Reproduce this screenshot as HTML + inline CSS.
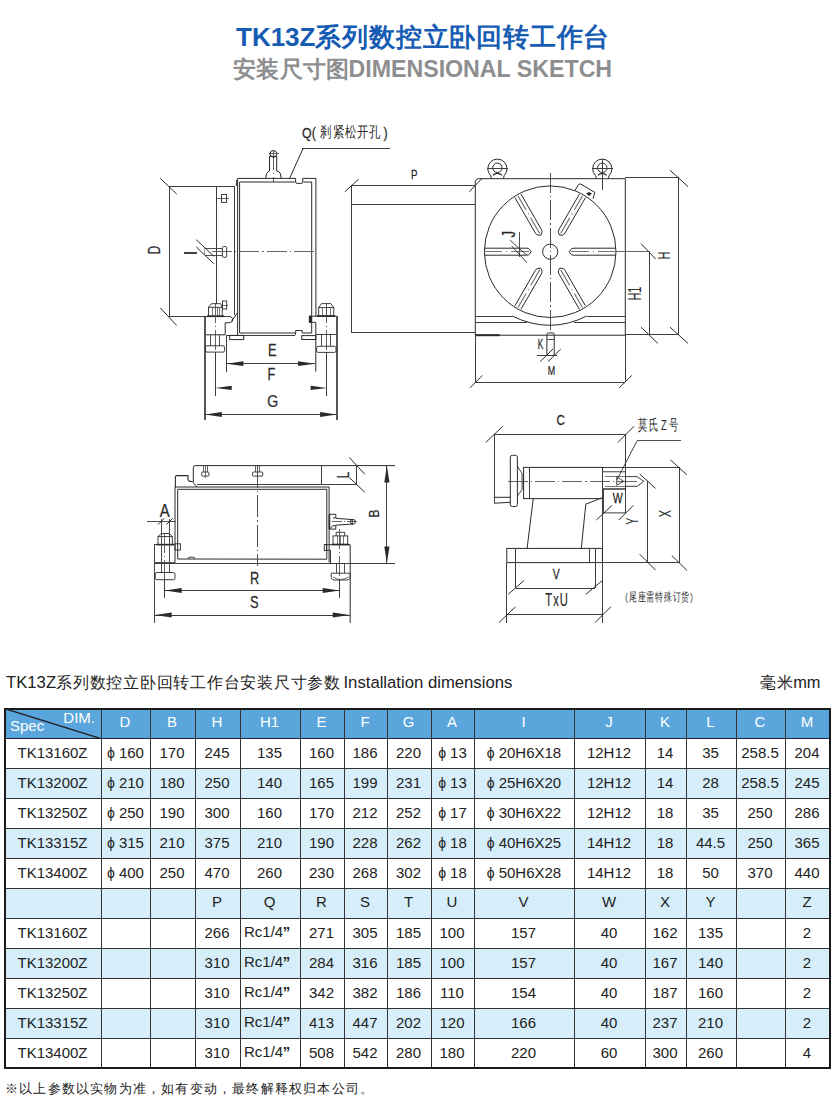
<!DOCTYPE html>
<html><head><meta charset="utf-8">
<style>
html,body{margin:0;padding:0;background:#fff;}
body{width:836px;height:1114px;position:relative;overflow:hidden;font-family:"Liberation Sans",sans-serif;color:#222;}
.abs{position:absolute;white-space:nowrap;}
.t1{left:236px;top:20px;font-size:26px;font-weight:bold;color:#165cb3;}
.t1 .c{letter-spacing:0.8px;}
.t2{left:233px;top:54.3px;font-size:23.2px;font-weight:bold;color:#8d8e90;}
.t2 .c{letter-spacing:0.25px;margin-right:-0.8px;font-size:23px;}
.cap{left:6px;top:672.5px;font-size:16.7px;color:#222;}
.cap .c{font-size:16px;letter-spacing:0.75px;margin-right:-2px;}
.mm{left:760px;top:672.5px;font-size:16.4px;color:#222;}
.mm .c{font-size:16px;letter-spacing:0.6px;}
.note{left:5px;top:1079.5px;font-size:13px;color:#222;letter-spacing:1.2px;}
.tbl{position:absolute;left:5px;top:708px;border-collapse:collapse;table-layout:fixed;width:825px;}
.tbl td{border:1px solid #333;height:30px;padding:0 2px 3px 0;box-sizing:border-box;text-align:center;font-size:15px;color:#222;position:relative;}
.tbl tr.h1 td{background:#5aa6dc;color:#fff;padding-bottom:4px;border-bottom-color:#1c2530;}
.tbl tr.b td{background:#d5eef9;}
.tbl tr.w td{background:#fff;}
.tbl tr.h2 td{padding-bottom:4.5px;}
.tbl td.spec{text-align:left;}
.dim{position:absolute;right:6px;top:0px;font-size:15px;color:#fff;}
.sp{position:absolute;left:4px;top:8px;font-size:15px;color:#fff;}
.phi{margin-right:4px;font-size:14px;position:relative;top:0.5px;margin-left:1px;}
.rc{position:absolute;left:3px;top:4.2px;}
.rc b{font-size:15px;margin-left:-0.5px;}
svg.draw{position:absolute;left:0;top:0;}
.frame{position:absolute;left:4px;top:708px;width:827px;height:361px;box-sizing:border-box;border:2px solid #1a1a1a;}
</style></head><body>
<div class="abs t1">TK13Z<span class="c">系列数控立卧回转工作台</span></div>
<div class="abs t2"><span class="c">安装尺寸图</span>DIMENSIONAL SKETCH</div>
<div class="abs cap">TK13Z<span class="c">系列数控立卧回转工作台安装尺寸参数</span> Installation dimensions</div>
<div class="abs mm"><span class="c">毫米</span>mm</div>
<svg class="draw" width="836" height="660" viewBox="0 0 836 660"><text transform="translate(302,137.6) scale(0.8,1)" font-size="15.5" text-anchor="start" fill="#2a2a2a" stroke="#2a2a2a" stroke-width="0.25" font-family="Liberation Sans, sans-serif">Q(</text>
<text transform="translate(320.4,137) scale(0.76,1)" font-size="15" letter-spacing="1.5" fill="#2a2a2a" font-family="Liberation Sans, sans-serif">刹紧松开孔</text>
<text transform="translate(383.6,137.6) scale(0.8,1)" font-size="15.5" text-anchor="start" fill="#2a2a2a" stroke="#2a2a2a" stroke-width="0.25" font-family="Liberation Sans, sans-serif">)</text>
<line x1="301.7" y1="148" x2="390" y2="148" stroke="#403c3c" stroke-width="1"  shape-rendering="crispEdges"/>
<line x1="289.6" y1="178.4" x2="303.3" y2="148" stroke="#2a2a2a" stroke-width="1" />
<path d="M265.7,178.4 L266.5,173.6 Q268,171.5 269.5,171 L269.5,156.3 L276.7,156.3 L276.7,171 Q279.5,171.5 280.4,173.6 L281.2,178.4" stroke="#2a2a2a" stroke-width="1" fill="none" />
<circle cx="273.4" cy="153.9" r="3.4" stroke="#2a2a2a" stroke-width="1" fill="none"/>
<line x1="273.4" y1="150" x2="273.4" y2="182" stroke="#403c3c" stroke-width="0.8" stroke-dasharray="20,3,1.3,3" shape-rendering="crispEdges"/>
<line x1="268.5" y1="153.9" x2="278.5" y2="153.9" stroke="#403c3c" stroke-width="0.8"  shape-rendering="crispEdges"/>
<path d="M237.6,335.2 L237.6,178.4 L295.6,178.4 L295.6,182 Q295.6,183.4 297.2,183.4 L301.2,183.4 Q302.8,183.4 302.8,182 L302.8,178.4 L315.9,178.4 L315.9,316.2" stroke="#2a2a2a" stroke-width="1" fill="none" />
<path d="M239.6,333 L239.6,182 L294.8,182 M303.6,182 L311.7,182 L311.7,333 L302.2,333 L302.2,330.5 L295.7,330.5 L295.7,333 L239.6,333" stroke="#2a2a2a" stroke-width="1" fill="none" />
<line x1="226" y1="335.4" x2="295.4" y2="335.4" stroke="#403c3c" stroke-width="1"  shape-rendering="crispEdges"/>
<line x1="295.4" y1="335.4" x2="295.4" y2="333" stroke="#403c3c" stroke-width="1"  shape-rendering="crispEdges"/>
<rect x="229.7" y="335.4" width="14" height="4.2" stroke="#2a2a2a" stroke-width="1" fill="none" rx="0"/>
<rect x="301.8" y="335.6" width="14" height="3.9" stroke="#2a2a2a" stroke-width="1" fill="none" rx="0"/>
<line x1="169.5" y1="186.2" x2="234.6" y2="186.2" stroke="#403c3c" stroke-width="1"  shape-rendering="crispEdges"/>
<line x1="216.2" y1="186.2" x2="216.2" y2="303.6" stroke="#403c3c" stroke-width="1"  shape-rendering="crispEdges"/>
<line x1="234.6" y1="186.2" x2="234.6" y2="314.7" stroke="#403c3c" stroke-width="1"  shape-rendering="crispEdges"/>
<line x1="236.4" y1="179.6" x2="236.4" y2="186" stroke="#403c3c" stroke-width="1"  shape-rendering="crispEdges"/>
<rect x="221.6" y="194.4" width="5" height="8" stroke="#2a2a2a" stroke-width="0.9" fill="none" rx="0"/>
<line x1="216.2" y1="198.4" x2="228.5" y2="198.4" stroke="#403c3c" stroke-width="0.8"  shape-rendering="crispEdges"/>
<rect x="222.4" y="246.5" width="4.3" height="10.8" stroke="#2a2a2a" stroke-width="0.9" fill="none" rx="1.2"/>
<line x1="204.8" y1="248.3" x2="222.4" y2="248.3" stroke="#403c3c" stroke-width="0.9"  shape-rendering="crispEdges"/>
<line x1="204.8" y1="255.1" x2="222.4" y2="255.1" stroke="#403c3c" stroke-width="0.9"  shape-rendering="crispEdges"/>
<line x1="204.8" y1="248.3" x2="204.8" y2="255.1" stroke="#888" stroke-width="0.8"  shape-rendering="crispEdges"/>
<line x1="212" y1="251.5" x2="315.8" y2="251.5" stroke="#555" stroke-width="0.9" stroke-dasharray="20,3,1.3,3" shape-rendering="crispEdges"/>
<rect x="222.5" y="301" width="4.2" height="8" stroke="#2a2a2a" stroke-width="0.9" fill="none" rx="0"/>
<line x1="222.5" y1="305.5" x2="228.2" y2="305.5" stroke="#403c3c" stroke-width="0.8"  shape-rendering="crispEdges"/>
<line x1="169.5" y1="186.2" x2="169.5" y2="316.7" stroke="#403c3c" stroke-width="1"  shape-rendering="crispEdges"/>
<line x1="160.3" y1="178.39999999999998" x2="176.7" y2="194.0" stroke="#2a2a2a" stroke-width="1" />
<line x1="160.3" y1="307.9" x2="176.7" y2="325.5" stroke="#2a2a2a" stroke-width="1" />
<line x1="169.5" y1="316.5" x2="230.6" y2="316.5" stroke="#403c3c" stroke-width="1"  shape-rendering="crispEdges"/>
<text transform="translate(160,250) rotate(-90) scale(0.72,1)" font-size="17" text-anchor="middle" fill="#2a2a2a" stroke="#2a2a2a" stroke-width="0.25" font-family="Liberation Sans, sans-serif">D</text>
<line x1="196.2" y1="239.7" x2="213.8" y2="256.2" stroke="#2a2a2a" stroke-width="1" />
<line x1="196.2" y1="246.9" x2="213.8" y2="263.7" stroke="#2a2a2a" stroke-width="1" />
<line x1="184" y1="253" x2="196.9" y2="253" stroke="#2a2a2a" stroke-width="1.8" />
<path d="M230.6,316.5 L232.4,318.3 L232.4,321.3 Q231,322.8 228,322.8 L225.2,322.8 L225.2,334.8 L204.9,334.8" stroke="#2a2a2a" stroke-width="1" fill="none" />
<line x1="231.5" y1="321.3" x2="237.2" y2="313.2" stroke="#2a2a2a" stroke-width="1" />
<line x1="204.9" y1="316.5" x2="204.9" y2="420" stroke="#555" stroke-width="1.2"  shape-rendering="crispEdges"/>
<rect x="208.5" y="307.3" width="13.7" height="9.2" stroke="#2a2a2a" stroke-width="0.9" fill="none" rx="0"/>
<path d="M208.5,307.3 L211.5,303.7 L220.7,303.7 L222.2,307.3" stroke="#2a2a2a" stroke-width="0.9" fill="none" />
<line x1="212.4" y1="307.3" x2="212.4" y2="316.5" stroke="#403c3c" stroke-width="0.7"  shape-rendering="crispEdges"/>
<line x1="217.1" y1="307.3" x2="217.1" y2="316.5" stroke="#403c3c" stroke-width="0.7"  shape-rendering="crispEdges"/>
<line x1="219.5" y1="307.3" x2="219.5" y2="316.5" stroke="#403c3c" stroke-width="0.7"  shape-rendering="crispEdges"/>
<line x1="207" y1="316.2" x2="224" y2="316.2" stroke="#2a2a2a" stroke-width="1.8" />
<line x1="210.9" y1="334.8" x2="210.9" y2="345.8" stroke="#403c3c" stroke-width="0.9"  shape-rendering="crispEdges"/>
<line x1="219.8" y1="334.8" x2="219.8" y2="345.8" stroke="#403c3c" stroke-width="0.9"  shape-rendering="crispEdges"/>
<rect x="205.5" y="345.8" width="19.1" height="6.3" stroke="#2a2a2a" stroke-width="0.9" fill="none" rx="1.5"/>
<line x1="215.4" y1="303" x2="215.4" y2="352" stroke="#403c3c" stroke-width="0.8" stroke-dasharray="20,3,1.3,3" shape-rendering="crispEdges"/>
<line x1="215.4" y1="352" x2="215.4" y2="396.3" stroke="#403c3c" stroke-width="1"  shape-rendering="crispEdges"/>
<line x1="226.2" y1="334.8" x2="226.2" y2="371.7" stroke="#403c3c" stroke-width="1"  shape-rendering="crispEdges"/>
<path d="M309.4,322.3 L309.4,316.2 L337,316.2 L337,420" stroke="#2a2a2a" stroke-width="1" fill="none" />
<line x1="337" y1="316.2" x2="337" y2="420" stroke="#555" stroke-width="1.2"  shape-rendering="crispEdges"/>
<rect x="309.4" y="316.2" width="2.1" height="6.1" stroke="#2a2a2a" stroke-width="0.9" fill="#2a2a2a" rx="0"/>
<path d="M309.4,322.3 L315.8,322.3 L315.8,371.7" stroke="#2a2a2a" stroke-width="1" fill="none" />
<line x1="315.8" y1="334.5" x2="337" y2="334.5" stroke="#403c3c" stroke-width="1"  shape-rendering="crispEdges"/>
<rect x="318.7" y="307.6" width="15.1" height="8.6" stroke="#2a2a2a" stroke-width="0.9" fill="none" rx="0"/>
<path d="M318.7,307.6 L321.6,303.6 L330.9,303.6 L333.8,307.6" stroke="#2a2a2a" stroke-width="0.9" fill="none" />
<line x1="322.6" y1="307.6" x2="322.6" y2="316.2" stroke="#403c3c" stroke-width="0.7"  shape-rendering="crispEdges"/>
<line x1="326.3" y1="307.6" x2="326.3" y2="316.2" stroke="#403c3c" stroke-width="0.7"  shape-rendering="crispEdges"/>
<line x1="330" y1="307.6" x2="330" y2="316.2" stroke="#403c3c" stroke-width="0.7"  shape-rendering="crispEdges"/>
<line x1="317" y1="316.1" x2="335" y2="316.1" stroke="#2a2a2a" stroke-width="1.8" />
<line x1="321.6" y1="334.5" x2="321.6" y2="346.3" stroke="#403c3c" stroke-width="0.9"  shape-rendering="crispEdges"/>
<line x1="330.9" y1="334.5" x2="330.9" y2="346.3" stroke="#403c3c" stroke-width="0.9"  shape-rendering="crispEdges"/>
<rect x="316.6" y="346.3" width="19.4" height="6.1" stroke="#2a2a2a" stroke-width="0.9" fill="none" rx="1.5"/>
<line x1="326.6" y1="303" x2="326.6" y2="352" stroke="#403c3c" stroke-width="0.8" stroke-dasharray="20,3,1.3,3" shape-rendering="crispEdges"/>
<line x1="326.9" y1="352" x2="326.9" y2="396.3" stroke="#403c3c" stroke-width="1"  shape-rendering="crispEdges"/>
<line x1="226.3" y1="363.7" x2="315.2" y2="363.7" stroke="#403c3c" stroke-width="1"  shape-rendering="crispEdges"/>
<path d="M226.3,363.7 L243.40,366.10 L243.40,361.30 Z" fill="#2a2a2a" stroke="none"/>
<path d="M315.2,363.7 L298.10,361.30 L298.10,366.10 Z" fill="#2a2a2a" stroke="none"/>
<text transform="translate(272.2,356.4) scale(0.8,1)" font-size="16" text-anchor="middle" fill="#2a2a2a" stroke="#2a2a2a" stroke-width="0.25" font-family="Liberation Sans, sans-serif">E</text>
<path d="M215.4,387.9 L231.70,390.00 L231.70,385.80 Z" fill="#2a2a2a" stroke="none"/>
<path d="M326.9,387.9 L310.60,385.80 L310.60,390.00 Z" fill="#2a2a2a" stroke="none"/>
<text transform="translate(271.5,380) scale(0.8,1)" font-size="16" text-anchor="middle" fill="#2a2a2a" stroke="#2a2a2a" stroke-width="0.25" font-family="Liberation Sans, sans-serif">F</text>
<line x1="205.1" y1="414.5" x2="336.8" y2="414.5" stroke="#403c3c" stroke-width="1"  shape-rendering="crispEdges"/>
<path d="M205.1,414.5 L221.80,416.90 L221.80,412.10 Z" fill="#2a2a2a" stroke="none"/>
<path d="M336.8,414.5 L320.10,412.10 L320.10,416.90 Z" fill="#2a2a2a" stroke="none"/>
<text transform="translate(272.6,407.4) scale(0.88,1)" font-size="16" text-anchor="middle" fill="#2a2a2a" stroke="#2a2a2a" stroke-width="0.25" font-family="Liberation Sans, sans-serif">G</text>
<line x1="351.4" y1="185.2" x2="475.3" y2="185.2" stroke="#403c3c" stroke-width="1"  shape-rendering="crispEdges"/>
<line x1="351.4" y1="204.9" x2="475.3" y2="204.9" stroke="#403c3c" stroke-width="1"  shape-rendering="crispEdges"/>
<line x1="351.4" y1="185.2" x2="351.4" y2="332.9" stroke="#403c3c" stroke-width="1"  shape-rendering="crispEdges"/>
<line x1="351.4" y1="332.9" x2="475" y2="332.9" stroke="#403c3c" stroke-width="1"  shape-rendering="crispEdges"/>
<line x1="344.9" y1="191.8" x2="358.5" y2="179.2" stroke="#2a2a2a" stroke-width="1" />
<line x1="469.40000000000003" y1="191.6" x2="481.8" y2="178.6" stroke="#2a2a2a" stroke-width="1" />
<text transform="translate(414.2,178.8) scale(0.75,1)" font-size="13" text-anchor="middle" fill="#2a2a2a" stroke="#2a2a2a" stroke-width="0.25" font-family="Liberation Sans, sans-serif">P</text>
<path d="M475.3,335.2 L475.3,181.5 Q475.5,178.7 478.5,178.7 L625.3,178.7 L625.3,335.2 Z" stroke="#2a2a2a" stroke-width="1" fill="none" />
<line x1="475.3" y1="335.2" x2="499.7" y2="335.2" stroke="#2a2a2a" stroke-width="2" />
<path d="M491.4,178.5 L490.59999999999997,175.5 A9.6,9.6 0 1 1 504.2,175.5 L503.4,178.5" stroke="#2a2a2a" stroke-width="1" fill="none" />
<circle cx="497.4" cy="167.8" r="4.7" stroke="#2a2a2a" stroke-width="1" fill="none"/>
<line x1="486.9" y1="168.4" x2="508.4" y2="168.4" stroke="#403c3c" stroke-width="1"  shape-rendering="crispEdges"/>
<path d="M596.3,178.5 L595.5,175.5 A9.6,9.6 0 1 1 609.0999999999999,175.5 L608.3,178.5" stroke="#2a2a2a" stroke-width="1" fill="none" />
<circle cx="602.3" cy="167.8" r="4.7" stroke="#2a2a2a" stroke-width="1" fill="none"/>
<line x1="591.8" y1="168.4" x2="613.3" y2="168.4" stroke="#403c3c" stroke-width="1"  shape-rendering="crispEdges"/>
<path d="M492.8,175.3 Q497.4,171.5 502,175.3" stroke="#2a2a2a" stroke-width="1.2" fill="none" />
<path d="M598,175.3 Q602.3,171.5 606.6,175.3" stroke="#2a2a2a" stroke-width="1.2" fill="none" />
<line x1="602.3" y1="159.3" x2="602.3" y2="190.2" stroke="#403c3c" stroke-width="1"  shape-rendering="crispEdges"/>
<circle cx="550.2" cy="251.7" r="65.8" stroke="#2a2a2a" stroke-width="1" fill="none"/>
<circle cx="550.2" cy="251.7" r="7.6" stroke="#2a2a2a" stroke-width="1" fill="none"/>
<line x1="550.2" y1="173" x2="550.2" y2="332.7" stroke="#403c3c" stroke-width="0.9" stroke-dasharray="20,3,1.3,3" shape-rendering="crispEdges"/>
<path d="M484.80,248.20 L526.70,248.20 Q529.00,248.20 529.70,249.50 L531.20,251.70 L529.70,253.90 Q529.00,255.20 526.70,255.20 L484.80,255.20" stroke="#2a2a2a" stroke-width="1" fill="none" />
<line x1="529.2" y1="251.7" x2="484.8" y2="251.7" stroke="#777" stroke-width="1.2" stroke-dasharray="18,4,1.2,4" shape-rendering="crispEdges"/>
<path d="M615.60,255.20 L573.70,255.20 Q571.40,255.20 570.70,253.90 L569.20,251.70 L570.70,249.50 Q571.40,248.20 573.70,248.20 L615.60,248.20" stroke="#2a2a2a" stroke-width="1" fill="none" />
<line x1="571.2" y1="251.7" x2="615.6" y2="251.7" stroke="#777" stroke-width="1.2" stroke-dasharray="18,4,1.2,4" shape-rendering="crispEdges"/>
<path d="M520.98,194.09 L541.48,229.60 Q542.63,231.59 541.86,232.85 L540.70,235.25 L538.04,235.05 Q536.57,235.09 535.42,233.10 L514.92,197.59" stroke="#2a2a2a" stroke-width="1" fill="none" />
<line x1="539.7" y1="233.51" x2="517.95" y2="195.84" stroke="#777" stroke-width="1.2" stroke-dasharray="18,4,1.2,4"/>
<path d="M585.48,197.59 L564.98,233.10 Q563.83,235.09 562.36,235.05 L559.70,235.25 L558.54,232.85 Q557.77,231.59 558.92,229.60 L579.42,194.09" stroke="#2a2a2a" stroke-width="1" fill="none" />
<line x1="560.7" y1="233.51" x2="582.45" y2="195.84" stroke="#777" stroke-width="1.2" stroke-dasharray="18,4,1.2,4"/>
<path d="M514.92,305.81 L535.42,270.30 Q536.57,268.31 538.04,268.35 L540.70,268.15 L541.86,270.55 Q542.63,271.81 541.48,273.80 L520.98,309.31" stroke="#2a2a2a" stroke-width="1" fill="none" />
<line x1="539.7" y1="269.89" x2="517.95" y2="307.56" stroke="#777" stroke-width="1.2" stroke-dasharray="18,4,1.2,4"/>
<path d="M579.42,309.31 L558.92,273.80 Q557.77,271.81 558.54,270.55 L559.70,268.15 L562.36,268.35 Q563.83,268.31 564.98,270.30 L585.48,305.81" stroke="#2a2a2a" stroke-width="1" fill="none" />
<line x1="560.7" y1="269.89" x2="582.45" y2="307.56" stroke="#777" stroke-width="1.2" stroke-dasharray="18,4,1.2,4"/>
<line x1="615.8" y1="251.8" x2="649.5" y2="251.8" stroke="#666" stroke-width="1.2"  shape-rendering="crispEdges"/>
<path d="M574.7,190.9 L578.6,184.5 Q579.5,183.5 581,184.2 L594.8,192.4 L593,198.8" stroke="#2a2a2a" stroke-width="1" fill="none" />
<path d="M586,193.5 l3,-1.5 l3,1.5 l-3,2.5 z" fill="#2a2a2a"/>
<line x1="519.4" y1="231.8" x2="519.4" y2="257" stroke="#403c3c" stroke-width="0.9"  shape-rendering="crispEdges"/>
<line x1="510.1" y1="240.2" x2="526.9" y2="255.3" stroke="#2a2a2a" stroke-width="0.9" />
<line x1="511.8" y1="246" x2="526.9" y2="262.8" stroke="#2a2a2a" stroke-width="0.9" />
<text transform="translate(514.6,234.2) rotate(-90) scale(0.75,1)" font-size="17.5" text-anchor="middle" fill="#2a2a2a" stroke="#2a2a2a" stroke-width="0.25" font-family="Liberation Sans, sans-serif">J</text>
<line x1="475.3" y1="316" x2="512" y2="316" stroke="#403c3c" stroke-width="1"  shape-rendering="crispEdges"/>
<line x1="586.7" y1="316" x2="625.3" y2="316" stroke="#403c3c" stroke-width="1"  shape-rendering="crispEdges"/>
<line x1="475.3" y1="322.7" x2="526.5" y2="322.7" stroke="#403c3c" stroke-width="1"  shape-rendering="crispEdges"/>
<line x1="574.3" y1="322.7" x2="625.3" y2="322.7" stroke="#403c3c" stroke-width="1"  shape-rendering="crispEdges"/>
<path d="M512,316 Q550.2,334.6 586.7,316" stroke="#2a2a2a" stroke-width="1" fill="none" />
<path d="M546.9,355.6 L546.9,334.5 Q546.9,332.9 548.5,332.9 L552.6,332.9 Q554.2,332.9 554.2,334.5 L554.2,355.6" stroke="#2a2a2a" stroke-width="1" fill="none" />
<line x1="546.9" y1="339.3" x2="554.2" y2="339.3" stroke="#403c3c" stroke-width="0.9"  shape-rendering="crispEdges"/>
<text transform="translate(540.5,349) scale(0.6,1)" font-size="14" text-anchor="middle" fill="#2a2a2a" stroke="#2a2a2a" stroke-width="0.25" font-family="Liberation Sans, sans-serif">K</text>
<line x1="536.9" y1="355.6" x2="557.2" y2="355.6" stroke="#403c3c" stroke-width="1"  shape-rendering="crispEdges"/>
<line x1="540.2" y1="361.6" x2="553" y2="349" stroke="#2a2a2a" stroke-width="1" />
<line x1="548" y1="361.6" x2="560.8" y2="349" stroke="#2a2a2a" stroke-width="1" />
<text transform="translate(551.5,374.7) scale(0.67,1)" font-size="13.3" text-anchor="middle" fill="#2a2a2a" stroke="#2a2a2a" stroke-width="0.25" font-family="Liberation Sans, sans-serif">M</text>
<line x1="475.3" y1="335.2" x2="475.3" y2="382" stroke="#403c3c" stroke-width="1"  shape-rendering="crispEdges"/>
<line x1="625.3" y1="335.2" x2="625.3" y2="382" stroke="#403c3c" stroke-width="1"  shape-rendering="crispEdges"/>
<line x1="475.3" y1="382" x2="625.3" y2="382" stroke="#403c3c" stroke-width="1"  shape-rendering="crispEdges"/>
<line x1="470.0" y1="387.8" x2="482.4" y2="375.40000000000003" stroke="#2a2a2a" stroke-width="1" />
<line x1="619.3000000000001" y1="387.90000000000003" x2="631.9" y2="375.3" stroke="#2a2a2a" stroke-width="1" />
<line x1="625.3" y1="177.9" x2="678.8" y2="177.9" stroke="#403c3c" stroke-width="1"  shape-rendering="crispEdges"/>
<line x1="678.8" y1="177.9" x2="678.8" y2="334.9" stroke="#403c3c" stroke-width="1"  shape-rendering="crispEdges"/>
<line x1="670" y1="170.20000000000002" x2="688" y2="186.6" stroke="#2a2a2a" stroke-width="1" />
<line x1="670" y1="327.2" x2="688" y2="343.40000000000003" stroke="#2a2a2a" stroke-width="1" />
<line x1="649.5" y1="252.1" x2="649.5" y2="334.9" stroke="#403c3c" stroke-width="1"  shape-rendering="crispEdges"/>
<line x1="641.0" y1="243.60000000000002" x2="655.5999999999999" y2="259.0" stroke="#2a2a2a" stroke-width="1" />
<line x1="641.2" y1="327.2" x2="657.8" y2="343.40000000000003" stroke="#2a2a2a" stroke-width="1" />
<line x1="625.3" y1="334.9" x2="678.8" y2="334.9" stroke="#403c3c" stroke-width="1"  shape-rendering="crispEdges"/>
<text transform="translate(670.2,255.6) rotate(-90) scale(0.66,1)" font-size="16.7" text-anchor="middle" fill="#2a2a2a" stroke="#2a2a2a" stroke-width="0" font-family="Liberation Sans, sans-serif">H</text>
<text transform="translate(641,293.6) rotate(-90) scale(0.62,1)" font-size="17.5" text-anchor="middle" fill="#2a2a2a" stroke="#2a2a2a" stroke-width="0" font-family="Liberation Sans, sans-serif">H1</text>
<path d="M196.9,486.9 L193.3,482.7 L193.3,467.5 Q193.3,465.6 195.5,465.6 L395.2,465.6" stroke="#2a2a2a" stroke-width="1" fill="none" />
<line x1="196.5" y1="484.3" x2="356.3" y2="484.3" stroke="#403c3c" stroke-width="1"  shape-rendering="crispEdges"/>
<line x1="321.3" y1="465.6" x2="321.3" y2="484.3" stroke="#403c3c" stroke-width="1"  shape-rendering="crispEdges"/>
<line x1="356.3" y1="465.6" x2="356.3" y2="484.3" stroke="#403c3c" stroke-width="1"  shape-rendering="crispEdges"/>
<line x1="349.3" y1="457.4" x2="364.90000000000003" y2="474.4" stroke="#2a2a2a" stroke-width="1" />
<line x1="349.3" y1="477.5" x2="364.90000000000003" y2="492.29999999999995" stroke="#2a2a2a" stroke-width="1" />
<text transform="translate(348.6,474.9) rotate(-90) scale(0.72,1)" font-size="16.2" text-anchor="middle" fill="#2a2a2a" stroke="#2a2a2a" stroke-width="0.25" font-family="Liberation Sans, sans-serif">L</text>
<rect x="201.70000000000002" y="472" width="7.2" height="4.1" stroke="#2a2a2a" stroke-width="0.9" fill="none" rx="0.8"/>
<line x1="203.5" y1="465.6" x2="203.5" y2="472" stroke="#403c3c" stroke-width="0.8"  shape-rendering="crispEdges"/>
<line x1="207.10000000000002" y1="465.6" x2="207.10000000000002" y2="472" stroke="#403c3c" stroke-width="0.8"  shape-rendering="crispEdges"/>
<rect x="252.50000000000003" y="472" width="10.2" height="4.1" stroke="#2a2a2a" stroke-width="0.9" fill="none" rx="0.8"/>
<line x1="255.8" y1="465.6" x2="255.8" y2="472" stroke="#403c3c" stroke-width="0.8"  shape-rendering="crispEdges"/>
<line x1="259.40000000000003" y1="465.6" x2="259.40000000000003" y2="472" stroke="#403c3c" stroke-width="0.8"  shape-rendering="crispEdges"/>
<line x1="205.3" y1="466" x2="205.3" y2="478" stroke="#403c3c" stroke-width="0.7"  shape-rendering="crispEdges"/>
<path d="M175.4,487.3 L175.4,477 Q175.4,475.6 177,475.6 L188,475.6 L188,479.7 L189.7,481.5 L192.7,481.5" stroke="#2a2a2a" stroke-width="1.1" fill="none" />
<path d="M175,487 L175,562.7 L154.4,562.7 M175,487 L329.1,487 L329.1,562.3" stroke="#2a2a2a" stroke-width="1" fill="none" />
<path d="M177.7,559 L177.7,489.3 L326.8,489.3 L326.8,559.2 Z" stroke="#2a2a2a" stroke-width="1" fill="none" />
<line x1="154.4" y1="563.3" x2="395.2" y2="563.3" stroke="#403c3c" stroke-width="1"  shape-rendering="crispEdges"/>
<path d="M188.4,559 L188.4,558 Q188.4,557.2 190,557.2 L193.2,557.2 Q194.7,557.2 194.7,558.5 L194.7,559" stroke="#2a2a2a" stroke-width="0.9" fill="none" />
<line x1="257.8" y1="466" x2="257.8" y2="566" stroke="#403c3c" stroke-width="0.9" stroke-dasharray="22,3,1.3,3" shape-rendering="crispEdges"/>
<rect x="175" y="543.8" width="5.4" height="6.3" stroke="#2a2a2a" stroke-width="0.9" fill="none" rx="0"/>
<line x1="154.4" y1="544.7" x2="175" y2="544.7" stroke="#403c3c" stroke-width="1"  shape-rendering="crispEdges"/>
<line x1="154.4" y1="544.7" x2="154.4" y2="622.9" stroke="#444" stroke-width="1.1"  shape-rendering="crispEdges"/>
<rect x="158" y="536.6" width="14.3" height="8.1" stroke="#2a2a2a" stroke-width="0.9" fill="none" rx="0"/>
<path d="M158,536.6 L161,533.5 L169.5,533.5 L172.3,536.6" stroke="#2a2a2a" stroke-width="0.9" fill="none" />
<line x1="156.5" y1="544.6" x2="174" y2="544.6" stroke="#2a2a2a" stroke-width="1.6" />
<line x1="161.2" y1="518.6" x2="161.2" y2="572.7" stroke="#403c3c" stroke-width="0.9"  shape-rendering="crispEdges"/>
<line x1="169.6" y1="518.6" x2="169.6" y2="572.7" stroke="#403c3c" stroke-width="0.9"  shape-rendering="crispEdges"/>
<line x1="164.7" y1="533" x2="164.7" y2="597.9" stroke="#403c3c" stroke-width="0.8" stroke-dasharray="20,3,1.3,3" shape-rendering="crispEdges"/>
<rect x="155.3" y="572.5" width="19.7" height="7.2" stroke="#2a2a2a" stroke-width="0.9" fill="none" rx="1.5"/>
<line x1="164.7" y1="580" x2="164.7" y2="597.9" stroke="#403c3c" stroke-width="1"  shape-rendering="crispEdges"/>
<line x1="147.2" y1="521.4" x2="175.9" y2="521.4" stroke="#403c3c" stroke-width="0.9"  shape-rendering="crispEdges"/>
<line x1="158.0" y1="524.6" x2="164.39999999999998" y2="518.1999999999999" stroke="#2a2a2a" stroke-width="1" />
<line x1="166.4" y1="524.6" x2="172.79999999999998" y2="518.1999999999999" stroke="#2a2a2a" stroke-width="1" />
<text transform="translate(164.6,516.6) scale(0.85,1)" font-size="17.5" text-anchor="middle" fill="#2a2a2a" stroke="#2a2a2a" stroke-width="0.25" font-family="Liberation Sans, sans-serif">A</text>
<path d="M329.4,514.3 L335.8,514.3 L335.8,517.9 L333,517.9 M333,525.6 L335.8,525.6 L335.8,529.1 L329.4,529.1 Z" stroke="#2a2a2a" stroke-width="1" fill="none" />
<line x1="329.4" y1="514.3" x2="329.4" y2="529.1" stroke="#2a2a2a" stroke-width="1.6" />
<path d="M335.8,518.3 L352.5,519.6 M335.8,525.2 L352.5,524" stroke="#2a2a2a" stroke-width="1" fill="none" />
<circle cx="352.9" cy="521.8" r="2.4" stroke="#2a2a2a" stroke-width="1" fill="none"/>
<line x1="352.9" y1="518.5" x2="352.9" y2="525.2" stroke="#403c3c" stroke-width="0.8"  shape-rendering="crispEdges"/>
<line x1="332" y1="521.8" x2="358" y2="521.8" stroke="#403c3c" stroke-width="0.8" stroke-dasharray="10,2,1,2" shape-rendering="crispEdges"/>
<path d="M336.2,535.9 L336.2,532.3 L344.7,532.3 L344.7,535.9" stroke="#2a2a2a" stroke-width="0.9" fill="none" />
<rect x="333" y="535.9" width="14.7" height="8.6" stroke="#2a2a2a" stroke-width="0.9" fill="none" rx="0"/>
<line x1="337" y1="535.9" x2="337" y2="544.4" stroke="#403c3c" stroke-width="0.7"  shape-rendering="crispEdges"/>
<line x1="340.3" y1="535.9" x2="340.3" y2="544.4" stroke="#403c3c" stroke-width="0.7"  shape-rendering="crispEdges"/>
<line x1="343.6" y1="535.9" x2="343.6" y2="544.4" stroke="#403c3c" stroke-width="0.7"  shape-rendering="crispEdges"/>
<line x1="332" y1="544.5" x2="349" y2="544.5" stroke="#2a2a2a" stroke-width="1.6" />
<path d="M324.3,544.7 L350.2,544.7 L350.2,622.9" stroke="#2a2a2a" stroke-width="1" fill="none" />
<rect x="324.3" y="544.5" width="2.2" height="6.1" stroke="#2a2a2a" stroke-width="0.9" fill="none" rx="0"/>
<path d="M326.5,550.4 L330.4,550.4 L330.4,563" stroke="#2a2a2a" stroke-width="1" fill="none" />
<line x1="336.6" y1="563.3" x2="336.6" y2="573.2" stroke="#403c3c" stroke-width="0.9"  shape-rendering="crispEdges"/>
<line x1="344.5" y1="563.3" x2="344.5" y2="573.2" stroke="#403c3c" stroke-width="0.9"  shape-rendering="crispEdges"/>
<path d="M331.2,573.2 L350.2,573.2 L350.2,578 Q349,580 347,580 L334,580 Q332,580 331.2,578 Z" stroke="#2a2a2a" stroke-width="0.9" fill="none" />
<path d="M333,577 Q340.5,582 348.5,577" stroke="#2a2a2a" stroke-width="0.7" fill="none" />
<line x1="339.8" y1="529" x2="339.8" y2="597.9" stroke="#403c3c" stroke-width="0.8" stroke-dasharray="20,3,1.3,3" shape-rendering="crispEdges"/>
<line x1="386.9" y1="465.6" x2="386.9" y2="563.3" stroke="#403c3c" stroke-width="1"  shape-rendering="crispEdges"/>
<path d="M386.9,465.6 L384.30,482.50 L389.50,482.50 Z" fill="#2a2a2a" stroke="none"/>
<path d="M386.9,563.3 L389.50,546.40 L384.30,546.40 Z" fill="#2a2a2a" stroke="none"/>
<text transform="translate(379.2,513.7) rotate(-90) scale(0.8,1)" font-size="15.5" text-anchor="middle" fill="#2a2a2a" stroke="#2a2a2a" stroke-width="0.25" font-family="Liberation Sans, sans-serif">B</text>
<line x1="164.7" y1="590.5" x2="339.7" y2="590.5" stroke="#403c3c" stroke-width="1"  shape-rendering="crispEdges"/>
<path d="M164.7,590.5 L181.70,592.90 L181.70,588.10 Z" fill="#2a2a2a" stroke="none"/>
<path d="M339.7,590.5 L322.70,588.10 L322.70,592.90 Z" fill="#2a2a2a" stroke="none"/>
<line x1="339.9" y1="580" x2="339.9" y2="597.9" stroke="#403c3c" stroke-width="1"  shape-rendering="crispEdges"/>
<text transform="translate(254.5,583.9) scale(0.8,1)" font-size="16" text-anchor="middle" fill="#2a2a2a" stroke="#2a2a2a" stroke-width="0.25" font-family="Liberation Sans, sans-serif">R</text>
<line x1="154.7" y1="615" x2="349.7" y2="615" stroke="#403c3c" stroke-width="1"  shape-rendering="crispEdges"/>
<path d="M154.7,615 L171.70,617.40 L171.70,612.60 Z" fill="#2a2a2a" stroke="none"/>
<path d="M349.7,615 L332.70,612.60 L332.70,617.40 Z" fill="#2a2a2a" stroke="none"/>
<text transform="translate(254.2,607.6) scale(0.8,1)" font-size="16" text-anchor="middle" fill="#2a2a2a" stroke="#2a2a2a" stroke-width="0.25" font-family="Liberation Sans, sans-serif">S</text>
<line x1="493.8" y1="434.8" x2="625.5" y2="434.8" stroke="#403c3c" stroke-width="1"  shape-rendering="crispEdges"/>
<line x1="485.7" y1="442.5" x2="502.7" y2="426.29999999999995" stroke="#2a2a2a" stroke-width="1" />
<line x1="617.8" y1="442.5" x2="634.0" y2="426.29999999999995" stroke="#2a2a2a" stroke-width="1" />
<text transform="translate(560.8,424.9) scale(0.8,1)" font-size="14.5" text-anchor="middle" fill="#2a2a2a" stroke="#2a2a2a" stroke-width="0.25" font-family="Liberation Sans, sans-serif">C</text>
<line x1="494.2" y1="434.8" x2="494.2" y2="503.3" stroke="#403c3c" stroke-width="1"  shape-rendering="crispEdges"/>
<path d="M494.2,497.3 L510.3,497.3 M494.2,503.2 L510.3,502.3" stroke="#2a2a2a" stroke-width="1" fill="none" />
<line x1="625.5" y1="434.8" x2="625.5" y2="472" stroke="#403c3c" stroke-width="1"  shape-rendering="crispEdges"/>
<rect x="510.3" y="455.3" width="7.1" height="51.2" stroke="#2a2a2a" stroke-width="1" fill="none" rx="2"/>
<path d="M517.3,466 L522.1,473.5 L522.1,489.5 L517.3,496" stroke="#2a2a2a" stroke-width="0.9" fill="none" />
<line x1="523.2" y1="473.5" x2="523.2" y2="489.5" stroke="#403c3c" stroke-width="0.8"  shape-rendering="crispEdges"/>
<rect x="523.6" y="467.4" width="78.9" height="31.2" stroke="#2a2a2a" stroke-width="1" fill="none" rx="0"/>
<line x1="529.4" y1="467.4" x2="529.4" y2="498.6" stroke="#403c3c" stroke-width="1"  shape-rendering="crispEdges"/>
<line x1="602.5" y1="467.4" x2="679.3" y2="467.4" stroke="#403c3c" stroke-width="1"  shape-rendering="crispEdges"/>
<line x1="507.8" y1="481.3" x2="640" y2="481.3" stroke="#403c3c" stroke-width="0.8" stroke-dasharray="20,3,1.3,3" shape-rendering="crispEdges"/>
<rect x="602.5" y="471.8" width="23" height="17.2" stroke="#2a2a2a" stroke-width="0.9" fill="none" rx="0"/>
<line x1="605" y1="476" x2="625.5" y2="476" stroke="#403c3c" stroke-width="0.7"  shape-rendering="crispEdges"/>
<line x1="605" y1="486" x2="625.5" y2="486" stroke="#403c3c" stroke-width="0.7"  shape-rendering="crispEdges"/>
<path d="M616.8,476.6 L623.5,481.3 L616.8,485.2 Z" stroke="#2a2a2a" stroke-width="0.9" fill="none" />
<rect x="603.4" y="489" width="22.1" height="23.9" stroke="#2a2a2a" stroke-width="0.9" fill="none" rx="0"/>
<text transform="translate(617.8,503.3) scale(0.75,1)" font-size="14" text-anchor="middle" fill="#2a2a2a" stroke="#2a2a2a" stroke-width="0.25" font-family="Liberation Sans, sans-serif">W</text>
<path d="M625.5,476.6 L637.1,476.6 L643.7,481.3 L637.1,486.3 L625.5,486.3" stroke="#2a2a2a" stroke-width="0.9" fill="none" />
<line x1="616.8" y1="480" x2="636.9" y2="441.1" stroke="#2a2a2a" stroke-width="0.9" />
<line x1="636.9" y1="440.4" x2="680.8" y2="440.4" stroke="#403c3c" stroke-width="0.9"  shape-rendering="crispEdges"/>
<text transform="translate(637.8,430.4) scale(0.62,1)" font-size="15" letter-spacing="4.3" fill="#2a2a2a" font-family="Liberation Sans, sans-serif">莫氏Z号</text>
<line x1="533.2" y1="499" x2="527.1" y2="548.4" stroke="#2a2a2a" stroke-width="1" />
<path d="M602.4,497.6 L585.8,504.2 L581.3,548.4" stroke="#2a2a2a" stroke-width="1" fill="none" />
<line x1="602.4" y1="470" x2="602.4" y2="622.6" stroke="#403c3c" stroke-width="1"  shape-rendering="crispEdges"/>
<rect x="506.8" y="548.4" width="95.6" height="14.2" stroke="#2a2a2a" stroke-width="1" fill="none" rx="0"/>
<line x1="515.5" y1="548.4" x2="515.5" y2="588.4" stroke="#403c3c" stroke-width="1"  shape-rendering="crispEdges"/>
<line x1="589.7" y1="548.4" x2="589.7" y2="562.6" stroke="#403c3c" stroke-width="1"  shape-rendering="crispEdges"/>
<line x1="595" y1="548.4" x2="595" y2="588.4" stroke="#403c3c" stroke-width="1"  shape-rendering="crispEdges"/>
<line x1="602.4" y1="562.6" x2="679.3" y2="562.6" stroke="#403c3c" stroke-width="1"  shape-rendering="crispEdges"/>
<line x1="515.5" y1="588.4" x2="595" y2="588.4" stroke="#403c3c" stroke-width="1"  shape-rendering="crispEdges"/>
<line x1="508.20000000000005" y1="594.3" x2="524.0" y2="580.5" stroke="#2a2a2a" stroke-width="1" />
<line x1="585.8000000000001" y1="594.3" x2="602.4" y2="580.5" stroke="#2a2a2a" stroke-width="1" />
<text transform="translate(556.2,579.2) scale(0.75,1)" font-size="14" text-anchor="middle" fill="#2a2a2a" stroke="#2a2a2a" stroke-width="0.25" font-family="Liberation Sans, sans-serif">V</text>
<line x1="506.8" y1="562.6" x2="506.8" y2="622.6" stroke="#403c3c" stroke-width="1"  shape-rendering="crispEdges"/>
<line x1="506.8" y1="614.7" x2="602.4" y2="614.7" stroke="#403c3c" stroke-width="1"  shape-rendering="crispEdges"/>
<line x1="498.9" y1="622.6" x2="515.5" y2="606.8000000000001" stroke="#2a2a2a" stroke-width="1" />
<line x1="595.0" y1="622.6" x2="610.8" y2="606.8000000000001" stroke="#2a2a2a" stroke-width="1" />
<text transform="translate(545.3,606.3) scale(0.64,1)" font-size="17.5" letter-spacing="1.6" fill="#2a2a2a" stroke="#2a2a2a" stroke-width="0.2" font-family="Liberation Sans, sans-serif">TxU</text>
<text transform="translate(625.3,600.6) scale(0.66,1)" font-size="11.5" letter-spacing="1.5" fill="#2a2a2a" font-family="Liberation Sans, sans-serif">(尾座需特殊订货)</text>
<line x1="596.3000000000001" y1="520.0" x2="612.1" y2="505.40000000000003" stroke="#2a2a2a" stroke-width="1" />
<line x1="618.7" y1="520.0" x2="633.3" y2="505.40000000000003" stroke="#2a2a2a" stroke-width="1" />
<text transform="translate(638.2,521.4) rotate(-90) scale(0.62,1)" font-size="16.8" text-anchor="middle" fill="#2a2a2a" stroke="#2a2a2a" stroke-width="0" font-family="Liberation Sans, sans-serif">Y</text>
<line x1="647.6" y1="480.5" x2="647.6" y2="562.6" stroke="#403c3c" stroke-width="1"  shape-rendering="crispEdges"/>
<line x1="639.7" y1="474.0" x2="655.5" y2="488.4" stroke="#2a2a2a" stroke-width="1" />
<line x1="639.7" y1="554.2" x2="655.5" y2="570.0" stroke="#2a2a2a" stroke-width="1" />
<line x1="679.3" y1="467.4" x2="679.3" y2="562.6" stroke="#403c3c" stroke-width="1"  shape-rendering="crispEdges"/>
<line x1="670.4" y1="459.8" x2="686.8000000000001" y2="474.8" stroke="#2a2a2a" stroke-width="1" />
<line x1="671.8" y1="555.5" x2="687.0" y2="570.5" stroke="#2a2a2a" stroke-width="1" />
<text transform="translate(670.6,513.7) rotate(-90) scale(0.66,1)" font-size="17.3" text-anchor="middle" fill="#2a2a2a" stroke="#2a2a2a" stroke-width="0" font-family="Liberation Sans, sans-serif">X</text></svg><table class="tbl"><colgroup><col style="width:96px"><col style="width:49px"><col style="width:45px"><col style="width:45px"><col style="width:60px"><col style="width:44px"><col style="width:43px"><col style="width:44px"><col style="width:43px"><col style="width:100px"><col style="width:71px"><col style="width:41px"><col style="width:50px"><col style="width:49px"><col style="width:45px"></colgroup>
<tr class="h1"><td class="spec"><svg width="96" height="30" style="position:absolute;left:0;top:0"><line x1="0" y1="0" x2="96" y2="30" stroke="#222" stroke-width="1.3"/></svg><span class="dim">DIM.</span><span class="sp">Spec</span></td><td>D</td><td>B</td><td>H</td><td>H1</td><td>E</td><td>F</td><td>G</td><td>A</td><td>I</td><td>J</td><td>K</td><td>L</td><td>C</td><td>M</td></tr>
<tr class="w"><td>TK13160Z</td><td><span class="phi">ϕ</span>160</td><td>170</td><td>245</td><td>135</td><td>160</td><td>186</td><td>220</td><td><span class="phi">ϕ</span>13</td><td><span class="phi">ϕ</span>20H6X18</td><td>12H12</td><td>14</td><td>35</td><td>258.5</td><td>204</td></tr>
<tr class="b"><td>TK13200Z</td><td><span class="phi">ϕ</span>210</td><td>180</td><td>250</td><td>140</td><td>165</td><td>199</td><td>231</td><td><span class="phi">ϕ</span>13</td><td><span class="phi">ϕ</span>25H6X20</td><td>12H12</td><td>14</td><td>28</td><td>258.5</td><td>245</td></tr>
<tr class="w"><td>TK13250Z</td><td><span class="phi">ϕ</span>250</td><td>190</td><td>300</td><td>160</td><td>170</td><td>212</td><td>252</td><td><span class="phi">ϕ</span>17</td><td><span class="phi">ϕ</span>30H6X22</td><td>12H12</td><td>18</td><td>35</td><td>250</td><td>286</td></tr>
<tr class="b"><td>TK13315Z</td><td><span class="phi">ϕ</span>315</td><td>210</td><td>375</td><td>210</td><td>190</td><td>228</td><td>262</td><td><span class="phi">ϕ</span>18</td><td><span class="phi">ϕ</span>40H6X25</td><td>14H12</td><td>18</td><td>44.5</td><td>250</td><td>365</td></tr>
<tr class="w"><td>TK13400Z</td><td><span class="phi">ϕ</span>400</td><td>250</td><td>470</td><td>260</td><td>230</td><td>268</td><td>302</td><td><span class="phi">ϕ</span>18</td><td><span class="phi">ϕ</span>50H6X28</td><td>14H12</td><td>18</td><td>50</td><td>370</td><td>440</td></tr>
<tr class="b h2"><td></td><td></td><td></td><td>P</td><td>Q</td><td>R</td><td>S</td><td>T</td><td>U</td><td>V</td><td>W</td><td>X</td><td>Y</td><td></td><td>Z</td></tr>
<tr class="w"><td>TK13160Z</td><td></td><td></td><td>266</td><td><span class="rc">Rc1/4<b>”</b></span></td><td>271</td><td>305</td><td>185</td><td>100</td><td>157</td><td>40</td><td>162</td><td>135</td><td></td><td>2</td></tr>
<tr class="b"><td>TK13200Z</td><td></td><td></td><td>310</td><td><span class="rc">Rc1/4<b>”</b></span></td><td>284</td><td>316</td><td>185</td><td>100</td><td>157</td><td>40</td><td>167</td><td>140</td><td></td><td>2</td></tr>
<tr class="w"><td>TK13250Z</td><td></td><td></td><td>310</td><td><span class="rc">Rc1/4<b>”</b></span></td><td>342</td><td>382</td><td>186</td><td>110</td><td>154</td><td>40</td><td>187</td><td>160</td><td></td><td>2</td></tr>
<tr class="b"><td>TK13315Z</td><td></td><td></td><td>310</td><td><span class="rc">Rc1/4<b>”</b></span></td><td>413</td><td>447</td><td>202</td><td>120</td><td>166</td><td>40</td><td>237</td><td>210</td><td></td><td>2</td></tr>
<tr class="w"><td>TK13400Z</td><td></td><td></td><td>310</td><td><span class="rc">Rc1/4<b>”</b></span></td><td>508</td><td>542</td><td>280</td><td>180</td><td>220</td><td>60</td><td>300</td><td>260</td><td></td><td>4</td></tr>
</table><div class="frame"></div>
<div class="abs note">※以上参数以实物为准，如有变动，最终解释权归本公司。</div>
</body></html>
